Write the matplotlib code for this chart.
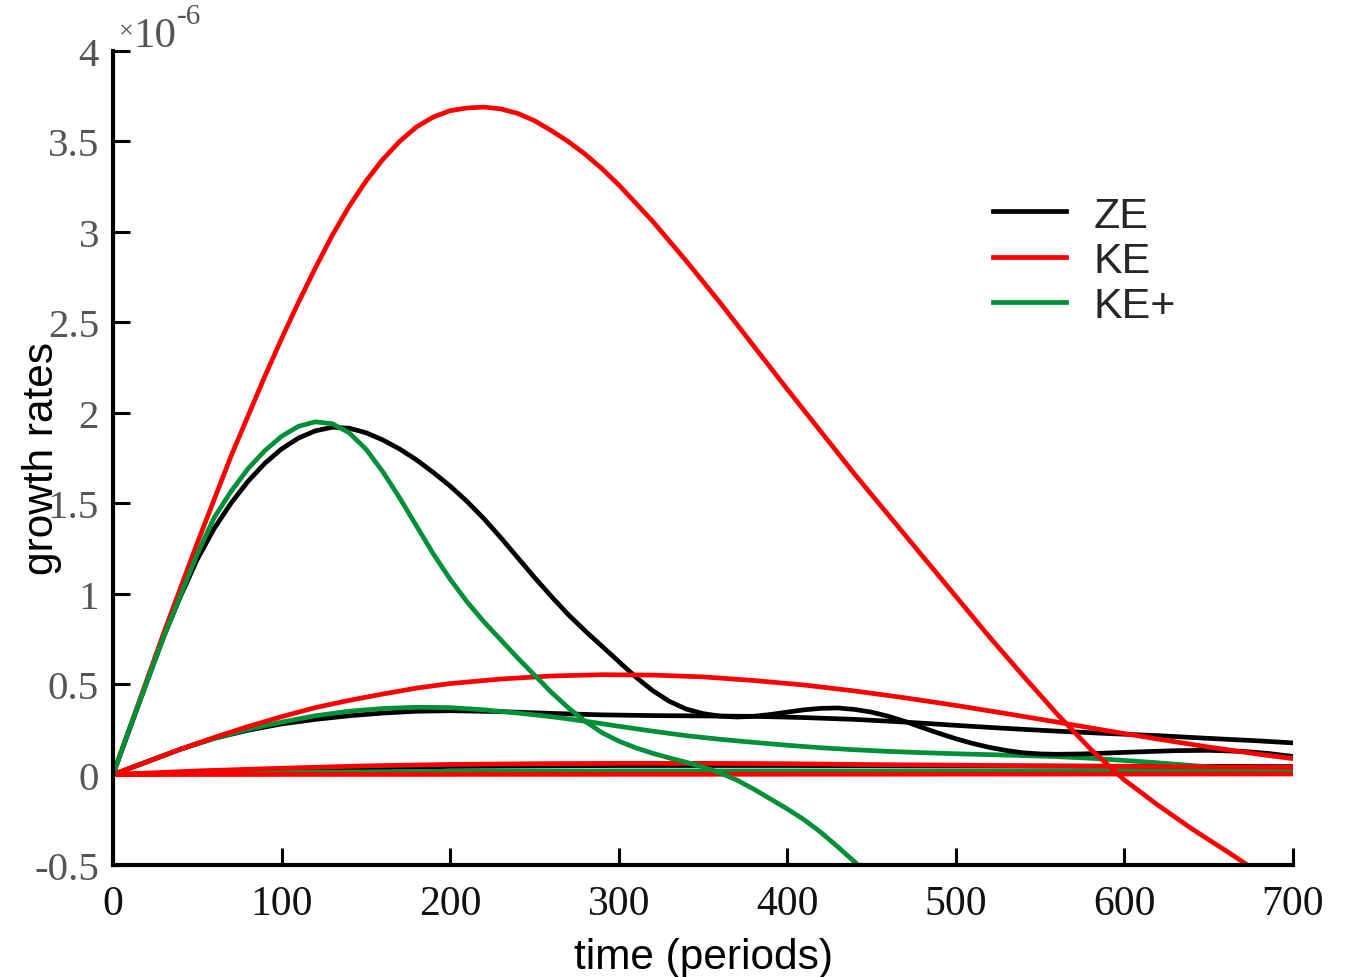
import matplotlib
matplotlib.use("Agg")
import numpy as np
import matplotlib.pyplot as plt

# growth rates in units of 1e-6, time in periods
# ZE (black)
ze1_t = [0, 10, 20, 30, 40, 50, 60, 70, 80, 90, 100, 110, 120, 130, 140, 150, 160, 170, 180, 190, 200, 210, 220, 230, 240, 250, 260, 270, 280, 290, 300, 310, 320, 330, 340, 350, 360, 370, 380, 390, 400, 410, 420, 430, 440, 450, 460, 470, 480, 490, 500, 510, 520, 530, 540, 550, 560, 575, 590, 610, 630, 650, 670, 685, 700]
ze1_v = [0, 0.255, 0.51, 0.76, 0.985, 1.19, 1.36, 1.50, 1.62, 1.72, 1.80, 1.86, 1.90, 1.92, 1.915, 1.89, 1.85, 1.80, 1.74, 1.67, 1.595, 1.51, 1.415, 1.31, 1.20, 1.09, 0.985, 0.885, 0.795, 0.71, 0.625, 0.54, 0.465, 0.405, 0.362, 0.337, 0.323, 0.318, 0.322, 0.332, 0.345, 0.358, 0.366, 0.368, 0.36, 0.345, 0.322, 0.293, 0.26, 0.228, 0.198, 0.172, 0.15, 0.133, 0.12, 0.114, 0.112, 0.114, 0.119, 0.126, 0.132, 0.134, 0.128, 0.117, 0.10]
ze2_t = [0, 20, 40, 60, 80, 100, 120, 140, 160, 180, 200, 230, 260, 290, 320, 350, 380, 410, 440, 470, 500, 530, 560, 590, 620, 650, 680, 700]
ze2_v = [0, 0.07, 0.14, 0.20, 0.245, 0.28, 0.305, 0.325, 0.34, 0.35, 0.353, 0.348, 0.338, 0.33, 0.326, 0.324, 0.322, 0.315, 0.305, 0.29, 0.272, 0.255, 0.24, 0.227, 0.215, 0.20, 0.186, 0.175]
ze3_t = [0, 100, 200, 300, 400, 500, 600, 700]
ze3_v = [0, 0.028, 0.045, 0.05, 0.05, 0.048, 0.046, 0.044]

# KE (red)
ke1_t = [0, 10, 20, 30, 40, 50, 60, 70, 80, 90, 100, 110, 120, 130, 140, 150, 160, 170, 180, 190, 200, 210, 220, 230, 240, 250, 260, 270, 280, 290, 300, 310, 320, 340, 360, 380, 400, 420, 440, 460, 480, 500, 520, 540, 560, 580, 600, 620, 640, 660, 673]
ke1_v = [0, 0.26, 0.52, 0.78, 1.03, 1.28, 1.52, 1.76, 1.98, 2.20, 2.41, 2.61, 2.80, 2.98, 3.14, 3.28, 3.40, 3.50, 3.58, 3.635, 3.67, 3.685, 3.69, 3.68, 3.655, 3.615, 3.56, 3.50, 3.43, 3.35, 3.26, 3.16, 3.06, 2.84, 2.61, 2.37, 2.13, 1.895, 1.66, 1.435, 1.21, 0.985, 0.76, 0.545, 0.335, 0.14, -0.03, -0.17, -0.30, -0.42, -0.50]
ke2_t = [0, 20, 40, 60, 80, 100, 120, 140, 160, 180, 200, 230, 260, 290, 320, 350, 380, 410, 440, 470, 500, 530, 560, 590, 620, 650, 680, 700]
ke2_v = [0, 0.07, 0.14, 0.205, 0.265, 0.32, 0.37, 0.41, 0.445, 0.478, 0.503, 0.528, 0.545, 0.552, 0.55, 0.54, 0.52, 0.495, 0.462, 0.424, 0.382, 0.337, 0.29, 0.242, 0.196, 0.152, 0.112, 0.088]
ke3_t = [0, 50, 100, 150, 200, 250, 300, 350, 400, 450, 500, 550, 600, 650, 700]
ke3_v = [0, 0.02, 0.035, 0.048, 0.056, 0.06, 0.062, 0.062, 0.06, 0.055, 0.052, 0.048, 0.045, 0.042, 0.04]
ke4_t = [0, 700]
ke4_v = [0, 0.003]

# KE+ (green)
kp1_t = [0, 10, 20, 30, 40, 50, 60, 70, 80, 90, 100, 110, 120, 130, 140, 150, 160, 170, 180, 190, 200, 210, 220, 230, 240, 250, 260, 270, 280, 290, 300, 310, 320, 330, 340, 350, 360, 370, 380, 390, 400, 410, 420, 430, 442]
kp1_v = [0, 0.26, 0.51, 0.76, 0.99, 1.22, 1.42, 1.565, 1.69, 1.79, 1.87, 1.925, 1.95, 1.94, 1.89, 1.80, 1.675, 1.53, 1.375, 1.22, 1.08, 0.955, 0.845, 0.745, 0.645, 0.55, 0.455, 0.37, 0.295, 0.232, 0.185, 0.148, 0.118, 0.092, 0.068, 0.042, 0.01, -0.03, -0.08, -0.135, -0.19, -0.25, -0.32, -0.40, -0.50]
kp2_t = [0, 20, 40, 60, 80, 100, 120, 140, 160, 180, 200, 220, 240, 260, 280, 300, 320, 340, 360, 380, 400, 420, 440, 460, 480, 500, 520, 540, 560, 580, 600, 620, 640, 660, 680, 700]
kp2_v = [0, 0.07, 0.14, 0.20, 0.25, 0.29, 0.325, 0.35, 0.365, 0.372, 0.37, 0.358, 0.34, 0.32, 0.295, 0.267, 0.24, 0.215, 0.195, 0.178, 0.162, 0.148, 0.137, 0.128, 0.121, 0.115, 0.11, 0.105, 0.099, 0.09, 0.078, 0.065, 0.05, 0.035, 0.02, 0.008]
kp3_t = [0, 100, 200, 300, 400, 500, 600, 700]
kp3_v = [0, 0.012, 0.018, 0.02, 0.02, 0.02, 0.02, 0.02]

xticks = [0, 100, 200, 300, 400, 500, 600, 700]
yticks = [-0.5, 0, 0.5, 1, 1.5, 2, 2.5, 3, 3.5, 4]
ytick_labels = ['-0.5', '0', '0.5', '1', '1.5', '2', '2.5', '3', '3.5', '4']

black = '#000000'
red = '#ff0000'
green = '#009038'
lw = 3.4

W, H = 1350, 978
fig = plt.figure(figsize=(W/100, H/100), dpi=100)
ax = fig.add_axes([113/W, 1 - 866/H, 1180/W, 814/H])

ax.plot(ze3_t, ze3_v, color=black, lw=lw)
ax.plot(kp3_t, kp3_v, color=green, lw=lw)
ax.plot(ze2_t, ze2_v, color=black, lw=lw)
ax.plot(kp2_t, kp2_v, color=green, lw=lw)
ax.plot(ze1_t, ze1_v, color=black, lw=lw, label='ZE')
ax.plot(ke3_t, ke3_v, color=red, lw=lw)
ax.plot(ke4_t, ke4_v, color=red, lw=lw)
ax.plot(ke2_t, ke2_v, color=red, lw=lw)
ax.plot(ke1_t, ke1_v, color=red, lw=lw, label='KE')
ax.plot(kp1_t, kp1_v, color=green, lw=lw, label='KE+')

ax.set_xlim(0, 700)
ax.set_ylim(-0.5, 4)
for s in ['top', 'right']:
	ax.spines[s].set_visible(False)
for s in ['left', 'bottom']:
	ax.spines[s].set_linewidth(3)
ax.tick_params(direction='in', length=12, width=2.2)
ax.set_xticks(xticks)
ax.set_xticklabels([str(t) for t in xticks], fontfamily='Liberation Serif', fontsize=30, color='#111111')
ax.set_yticks(yticks)
ax.set_yticklabels(ytick_labels, fontfamily='Liberation Serif', fontsize=29.5, color='#555555')
ax.tick_params(axis='x', pad=14)
ax.tick_params(axis='y', pad=10)

ax.set_xlabel('time (periods)', fontfamily='Liberation Sans', fontsize=30.5, labelpad=10)
ax.set_ylabel('growth rates', fontfamily='Liberation Sans', fontsize=30.5)
ax.yaxis.set_label_coords(-0.043, 0.5)

# offset text "x10^-6" as in the original figure
fig.text(119/W, 1 - 38/H, '×', fontfamily='Liberation Serif', fontsize=19, color='#555555', va='baseline')
fig.text(133/W, 1 - 47/H, '10', fontfamily='Liberation Serif', fontsize=31, color='#555555', va='baseline')
fig.text(177/W, 1 - 24/H, '-6', fontfamily='Liberation Serif', fontsize=21, color='#555555', va='baseline')

leg = ax.legend(loc='upper left', bbox_to_anchor=(971/W, 1 - 175/H), bbox_transform=fig.transFigure,
	frameon=False, prop={'family': 'Liberation Sans', 'size': 31}, handlelength=1.7,
	handletextpad=0.65, labelspacing=0.12, borderpad=0)
for t in leg.get_texts():
	t.set_color('#262626')

fig.savefig('out.png', dpi=100)
